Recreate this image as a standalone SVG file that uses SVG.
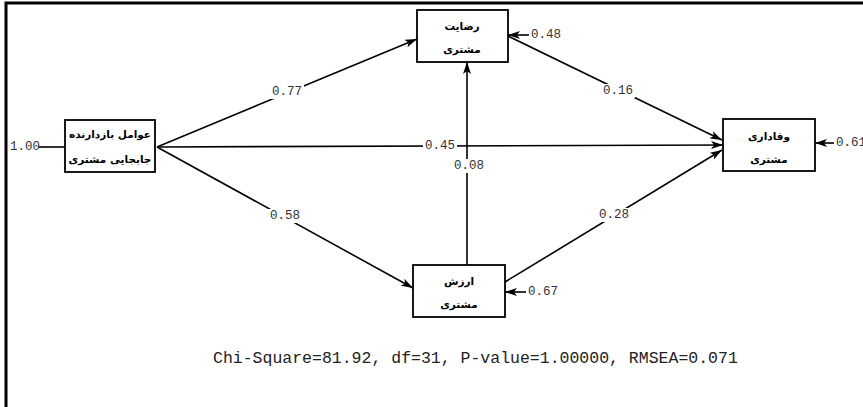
<svg xmlns="http://www.w3.org/2000/svg" width="863" height="407" viewBox="0 0 863 407">
<style>
.box{fill:#fff;stroke:#000;stroke-width:1.8}
.ln{stroke:#000;stroke-width:1.6;fill:none}
.fa{font-family:"DejaVu Sans",sans-serif;font-size:10.5px;font-weight:bold;text-anchor:middle;fill:#000}
.bg{fill:#fff}
.lbl{font-family:"Liberation Mono",monospace;font-size:12.5px;text-anchor:middle;dominant-baseline:central;fill:#333}
.err{font-family:"Liberation Mono",monospace;font-size:12.5px;dominant-baseline:central;fill:#333}
.fit{font-family:"Liberation Mono",monospace;font-size:16.5px;fill:#222}
</style>
<defs>
<marker id="ah" viewBox="0 0 12 8" refX="12" refY="4" markerWidth="12" markerHeight="8" markerUnits="userSpaceOnUse" orient="auto">
<path d="M0,0 L12,4 L0,8 L3,4 Z" fill="#000"/>
</marker>
</defs>
<rect width="863" height="407" fill="#fff"/>
<path d="M6,407 V3 H863" fill="none" stroke="#000" stroke-width="3"/>
<g id="connectors">
<line class="ln" x1="157" y1="147" x2="417" y2="39" marker-end="url(#ah)"/>
<line class="ln" x1="157" y1="147" x2="723" y2="145" marker-end="url(#ah)"/>
<line class="ln" x1="157" y1="147" x2="413" y2="288" marker-end="url(#ah)"/>
<line class="ln" x1="467" y1="265" x2="467" y2="62" marker-end="url(#ah)"/>
<line class="ln" x1="508" y1="36" x2="722" y2="140" marker-end="url(#ah)"/>
<line class="ln" x1="505" y1="282" x2="722" y2="150" marker-end="url(#ah)"/>
<line class="ln" x1="38" y1="147" x2="65" y2="147"/>
<line class="ln" x1="529" y1="35" x2="508" y2="35" marker-end="url(#ah)"/>
<line class="ln" x1="834" y1="143" x2="815" y2="143" marker-end="url(#ah)"/>
<line class="ln" x1="526" y1="292" x2="505" y2="292" marker-end="url(#ah)"/>
<rect class="bg" x="270" y="85" width="34" height="14"/>
<rect class="bg" x="423" y="139" width="34" height="14"/>
<rect class="bg" x="452" y="159" width="34" height="14"/>
<rect class="bg" x="268" y="209" width="34" height="14"/>
<rect class="bg" x="601" y="84" width="34" height="14"/>
<rect class="bg" x="597" y="208" width="34" height="14"/>
<text class="lbl" x="287" y="92">0.77</text>
<text class="lbl" x="440" y="146">0.45</text>
<text class="lbl" x="469" y="166">0.08</text>
<text class="lbl" x="285" y="216">0.58</text>
<text class="lbl" x="618" y="91">0.16</text>
<text class="lbl" x="614" y="215">0.28</text>
<text class="err" x="10" y="147">1.00</text>
<text class="err" x="531" y="35">0.48</text>
<text class="err" x="836" y="143">0.61</text>
<text class="err" x="528" y="292">0.67</text>
</g>
<g id="node-barrier">
<rect class="box" x="65" y="120" width="90" height="52"/>
<text class="fa" x="110" y="138">عوامل بازدارنده</text>
<text class="fa" x="110" y="163">جابجایی مشتری</text>
</g>
<g id="node-satisfaction">
<rect class="box" x="417" y="10" width="91" height="52"/>
<text class="fa" x="462" y="30">رضایت</text>
<text class="fa" x="462" y="53">مشتری</text>
</g>
<g id="node-loyalty">
<rect class="box" x="723" y="119" width="92" height="52"/>
<text class="fa" x="769" y="140">وفاداری</text>
<text class="fa" x="769" y="163">مشتری</text>
</g>
<g id="node-value">
<rect class="box" x="413" y="265" width="92" height="52"/>
<text class="fa" x="459" y="285">ارزش</text>
<text class="fa" x="459" y="308">مشتری</text>
</g>
<text class="fit" x="213" y="363">Chi-Square=81.92, df=31, P-value=1.00000, RMSEA=0.071</text>
</svg>
